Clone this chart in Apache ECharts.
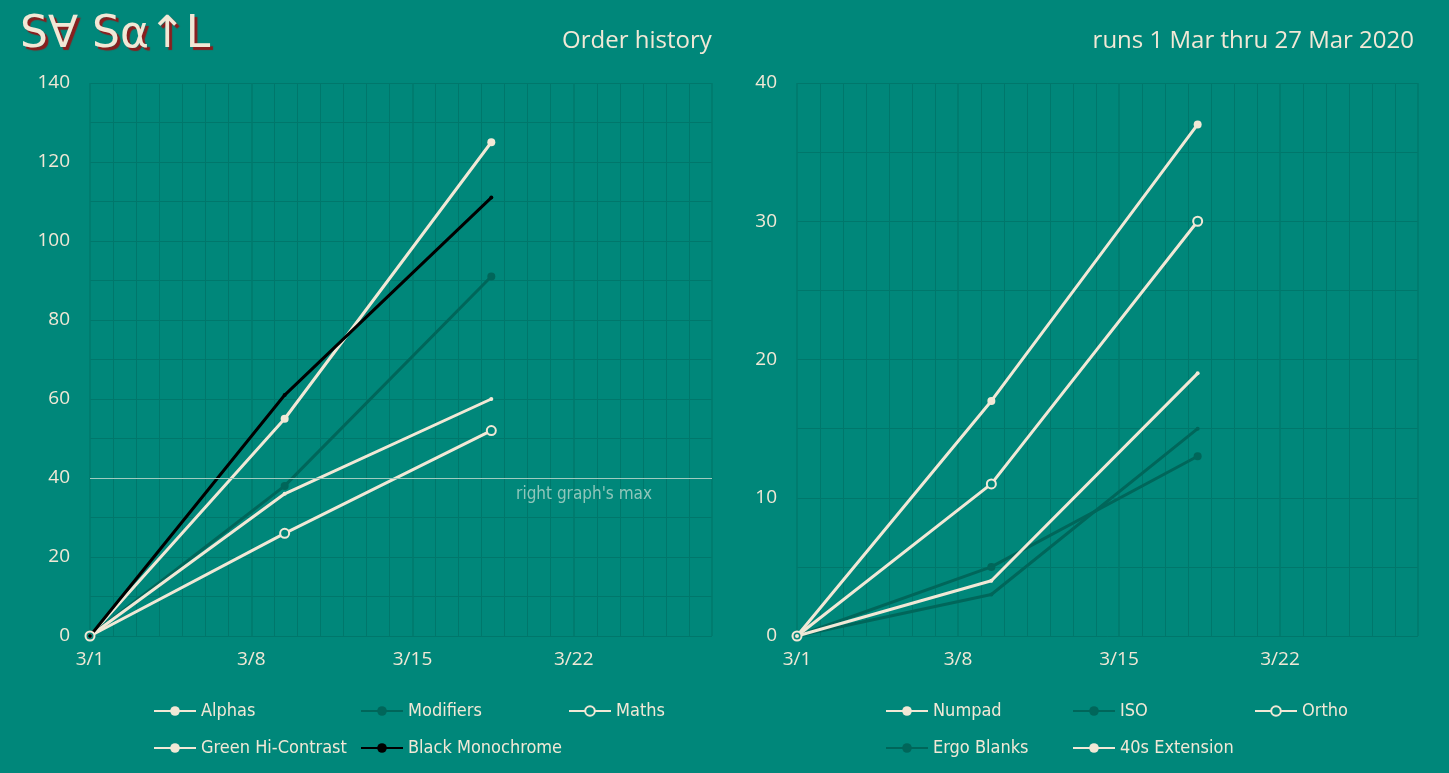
<!DOCTYPE html>
<html>
<head>
    <meta charset="utf-8">
    <title>Order history</title>
    <script src="https://cdn.jsdelivr.net/npm/echarts@6/dist/echarts.min.js"></script>
    <style>
        html, body { margin: 0; padding: 0; background: #00877a; }
        #main { width: 1449px; height: 773px; }
    </style>
</head>
<body>
<div id="main"></div>
<script>
    // days since 3/1 for each run
    var runDays = [0, 8.45, 17.42];
    var xTicks = ['3/1', '3/8', '3/15', '3/22'];

    var leftNames = ['Alphas', 'Modifiers', 'Maths', 'Green Hi-Contrast', 'Black Monochrome'];
    var alphas = [0, 55, 125];
    var modifiers = [0, 38, 91];
    var maths = [0, 26, 52];
    var greenHiContrast = [0, 36, 60];
    var blackMono = [0, 61, 111];

    var rightNames = ['Numpad', 'ISO', 'Ortho', 'Ergo Blanks', '40s Extension'];
    var numpad = [0, 17, 37];
    var iso = [0, 5, 13];
    var ortho = [0, 11, 30];
    var ergoBlanks = [0, 3, 15];
    var fortiesExt = [0, 4, 19];

    var rightMax = 40;

    var cream = '#f1e8d6', dark = '#00665a', grid = '#00776b', bg = '#00877a';
    var font = 'Open Sans';
    var narrow = 'DejaVu Sans Condensed';

    function pts(vals) {
        return vals.map(function (v, i) { return [runDays[i], v]; });
    }

    // marker style per kind
    function line(name, vals, idx, kind) {
        var s = {
            name: name, type: 'line', xAxisIndex: idx, yAxisIndex: idx,
            data: pts(vals), lineStyle: {width: 3}, z: 3
        };
        if (kind === 'dot') { s.symbol = 'circle'; s.symbolSize = 8; s.itemStyle = {color: cream}; s.lineStyle.color = cream; }
        if (kind === 'darkdot') { s.symbol = 'circle'; s.symbolSize = 8; s.itemStyle = {color: dark}; s.lineStyle.color = dark; }
        if (kind === 'ring') { s.symbol = 'circle'; s.symbolSize = 9; s.itemStyle = {color: bg, borderColor: cream, borderWidth: 2}; s.lineStyle.color = cream; }
        if (kind === 'tiny') { s.symbol = 'circle'; s.symbolSize = 4; s.itemStyle = {color: cream}; s.lineStyle.color = cream; }
        if (kind === 'darktiny') { s.symbol = 'circle'; s.symbolSize = 4; s.itemStyle = {color: dark}; s.lineStyle.color = dark; }
        if (kind === 'black') { s.symbol = 'circle'; s.symbolSize = 4; s.itemStyle = {color: '#000'}; s.lineStyle.color = '#000'; }
        return s;
    }

    function xAxis(idx) {
        return {
            type: 'value', gridIndex: idx, min: 0, max: 27, interval: 7,
            axisLine: {show: false}, axisTick: {show: false},
            axisLabel: {color: cream, fontFamily: font, fontSize: 19, margin: 14,
                formatter: function (v) { return xTicks[v / 7] || ''; }},
            splitLine: {show: true, lineStyle: {color: '#00786c', width: 1.5}},
            minorTick: {show: false, splitNumber: 7},
            minorSplitLine: {show: true, lineStyle: {color: grid, width: 1}}
        };
    }

    function yAxis(idx, max, interval) {
        return {
            type: 'value', gridIndex: idx, min: 0, max: max, interval: interval,
            axisLine: {show: false}, axisTick: {show: false},
            axisLabel: {color: cream, fontFamily: font, fontSize: 19, margin: 20},
            splitLine: {show: true, lineStyle: {color: grid}},
            minorTick: {show: false, splitNumber: 2},
            minorSplitLine: {show: true, lineStyle: {color: grid}}
        };
    }

    var leftSeries = [
        line(leftNames[0], alphas, 0, 'dot'),
        line(leftNames[1], modifiers, 0, 'darkdot'),
        line(leftNames[2], maths, 0, 'ring'),
        line(leftNames[3], greenHiContrast, 0, 'tiny'),
        line(leftNames[4], blackMono, 0, 'black')
    ];
    leftSeries[0].markLine = {
        silent: true, symbol: 'none',
        lineStyle: {color: '#9fcbbf', type: 'solid', width: 1},
        label: {position: 'insideEndBottom', formatter: "right graph's max", color: '#8fc6ba',
            fontFamily: narrow, fontSize: 17, distance: [60, 8]},
        data: [{yAxis: rightMax}]
    };

    var rightSeries = [
        line(rightNames[0], numpad, 1, 'dot'),
        line(rightNames[1], iso, 1, 'darkdot'),
        line(rightNames[2], ortho, 1, 'ring'),
        line(rightNames[3], ergoBlanks, 1, 'darktiny'),
        line(rightNames[4], fortiesExt, 1, 'tiny')
    ];

    // one legend per entry, laid out in 3 columns
    var leftCols = [148, 355, 563], rightCols = [880, 1067, 1249], rows = [697, 734];
    var legends = [];
    function addLegends(names, cols) {
        names.forEach(function (n, i) {
            legends.push({
                data: [n], left: cols[i % 3], top: rows[Math.floor(i / 3)],
                itemWidth: 42, itemHeight: 12, itemGap: 6,
                textStyle: {color: cream, fontFamily: narrow, fontSize: 18}
            });
        });
    }
    addLegends(leftNames, leftCols);
    addLegends(rightNames, rightCols);

    var chart = echarts.init(document.getElementById('main'));
    chart.setOption({
        backgroundColor: bg,
        animation: false,
        title: [
            {text: 'Order history', left: 557, top: 24, textStyle: {color: cream, fontFamily: font, fontSize: 24, fontWeight: 'normal'}},
            {text: 'runs 1 Mar thru 27 Mar 2020', right: 30, top: 24, textStyle: {color: cream, fontFamily: font, fontSize: 24, fontWeight: 'normal'}}
        ],
        graphic: [{
            type: 'text', left: 20, top: 14,
            style: {text: 'S\u2200 S\u03b1\u2191L', fill: cream, font: '44px "DejaVu Sans"',
                textShadowColor: '#8a1e1e', textShadowOffsetX: 3, textShadowOffsetY: 3, textShadowBlur: 1}
        }],
        legend: legends,
        grid: [
            {left: 90, right: 737, top: 83, bottom: 137},
            {left: 797, right: 31, top: 83, bottom: 137}
        ],
        xAxis: [xAxis(0), xAxis(1)],
        yAxis: [yAxis(0, 140, 20), yAxis(1, 40, 10)],
        series: leftSeries.concat(rightSeries)
    });
</script>
</body>
</html>
